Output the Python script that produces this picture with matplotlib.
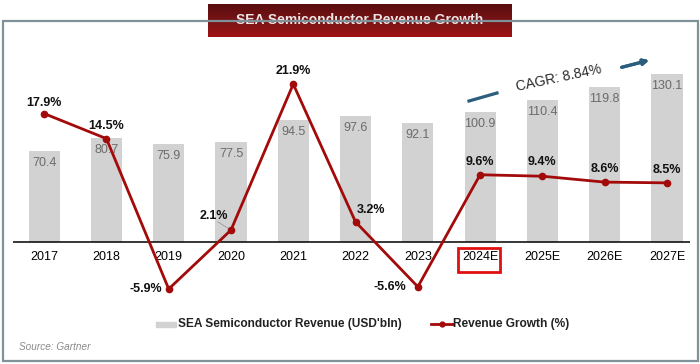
import numpy as np
import matplotlib.pyplot as plt
from matplotlib.patches import Rectangle
from matplotlib.lines import Line2D
from matplotlib.colors import LinearSegmentedColormap

plt.rcParams['font.family'] = ['Liberation Sans', 'DejaVu Sans']

years = ['2017', '2018', '2019', '2020', '2021', '2022', '2023', '2024E', '2025E', '2026E', '2027E']
revenue = [70.4, 80.7, 75.9, 77.5, 94.5, 97.6, 92.1, 100.9, 110.4, 119.8, 130.1]
growth = [17.9, 14.5, -5.9, 2.1, 21.9, 3.2, -5.6, 9.6, 9.4, 8.6, 8.5]
growth_labels = ['17.9%', '14.5%', '-5.9%', '2.1%', '21.9%', '3.2%', '-5.6%', '9.6%', '9.4%', '8.6%', '8.5%']
# label offsets in pixels (dx, dy)
lab_off = [(0, 11), (0, 13), (-23, 0), (-17, 14), (0, 13), (15, 12), (-28, 0), (0, 13), (0, 14), (0, 13), (0, 13)]

W, H = 700, 364
fig = plt.figure(figsize=(7, 3.64), dpi=100)

# outer frame
fig.patches.append(Rectangle((2.5 / W, 1 - 361 / H), 695 / W, 340 / H, transform=fig.transFigure,
                             fill=False, edgecolor='#7f9199', linewidth=1.6))

# title box with gradient
tax = fig.add_axes([208 / W, 1 - 37 / H, 304 / W, 33 / H])
grad = np.linspace(0, 1, 50).reshape(-1, 1)
cm = LinearSegmentedColormap.from_list('t', ['#5a0d0f', '#781416', '#9e1214'])
tax.imshow(grad, aspect='auto', cmap=cm, extent=[0, 1, 1, 0])
tax.set_xlim(0, 1)
tax.set_ylim(1, 0)
tax.axis('off')
tax.text(0.5, 0.5, 'SEA Semiconductor Revenue Growth', color='#eee6e6', fontsize=10,
         fontweight='bold', ha='center', va='center', transform=tax.transAxes)

# main axes
y_top, y_bot = 45, 305
ax = fig.add_axes([13 / W, 1 - y_bot / H, 677 / W, (y_bot - y_top) / H])
x = np.arange(len(years))
ax.bar(x, revenue, width=0.5, color='#d2d2d2', zorder=1)
ax.set_xlim(-0.5, 10.37)
ax.set_ylim(-(y_bot - 242) / 1.29, (242 - y_top) / 1.29)
ax.axhline(0, color='black', linewidth=1.1, zorder=2)
for xi, v in zip(x, revenue):
    ax.annotate(f'{v}', (xi, v), xytext=(0, -12), textcoords='offset pixels',
                ha='center', va='center', fontsize=9, color='#6b6b6b', zorder=3)
for xi, yr in zip(x, years):
    ax.annotate(yr, (xi, 0), xytext=(0, -15), textcoords='offset pixels',
                ha='center', va='center', fontsize=9, color='black')
ax.axis('off')

# 2024E highlight box
fig.patches.append(Rectangle((458 / W, 1 - 272 / H), 42 / W, 24 / H, transform=fig.transFigure,
                             fill=False, edgecolor='#e01010', linewidth=2))

ax2 = ax.twinx()
ax2.set_ylim(-(y_bot - 245.5) / 7.37, (245.5 - y_top) / 7.37)
ax2.plot(x, growth, color='#a30a0a', linewidth=2, marker='o', markersize=4.5, zorder=4)
for xi, g, t, (dx, dy) in zip(x, growth, growth_labels, lab_off):
    ax2.annotate(t, (xi, g), xytext=(dx, dy), textcoords='offset pixels',
                 ha='center', va='center', fontsize=9, fontweight='bold', color='#111111')
ax2.annotate('', xy=(3, 2.1), xytext=(2.75, 3.4), arrowprops=dict(arrowstyle='-', color='#999999', lw=0.6))
ax2.axis('off')

# CAGR annotation
arrow_c = '#2b5d7c'
fig.add_artist(Line2D([469 / W, 497 / W], [1 - 101 / H, 1 - 93 / H], color=arrow_c, lw=2.3))
fig.text(559 / W, 1 - 78 / H, 'CAGR: 8.84%', rotation=12, ha='center', va='center',
         fontsize=10, color='#2a2a2a')
fig.add_artist(plt.annotate('', xy=(652 / W, 1 - 59.5 / H), xytext=(619 / W, 1 - 68 / H),
                            xycoords='figure fraction',
                            arrowprops=dict(arrowstyle='-|>', color=arrow_c, lw=2.3, mutation_scale=8)))

# legend
fig.patches.append(Rectangle((156 / W, 1 - 326.5 / H), 20 / W, 5 / H, transform=fig.transFigure,
                             color='#d2d2d2'))
fig.text(178 / W, 1 - 324 / H, "SEA Semiconductor Revenue (USD'bln)", fontsize=8.6,
         fontweight='bold', color='#222222', va='center')
fig.add_artist(Line2D([431 / W, 453 / W], [1 - 324 / H, 1 - 324 / H], color='#a30a0a', lw=2,
                      transform=fig.transFigure))
fig.add_artist(Line2D([442 / W], [1 - 324 / H], color='#a30a0a', marker='o', markersize=3.5,
                      transform=fig.transFigure))
fig.text(453 / W, 1 - 324 / H, 'Revenue Growth (%)', fontsize=8.6, fontweight='bold',
         color='#222222', va='center')

fig.text(19 / W, 1 - 347 / H, 'Source: Gartner', fontsize=7.2, style='italic', color='#8a8a8a',
         va='center')

fig.savefig('out.png', dpi=100)
